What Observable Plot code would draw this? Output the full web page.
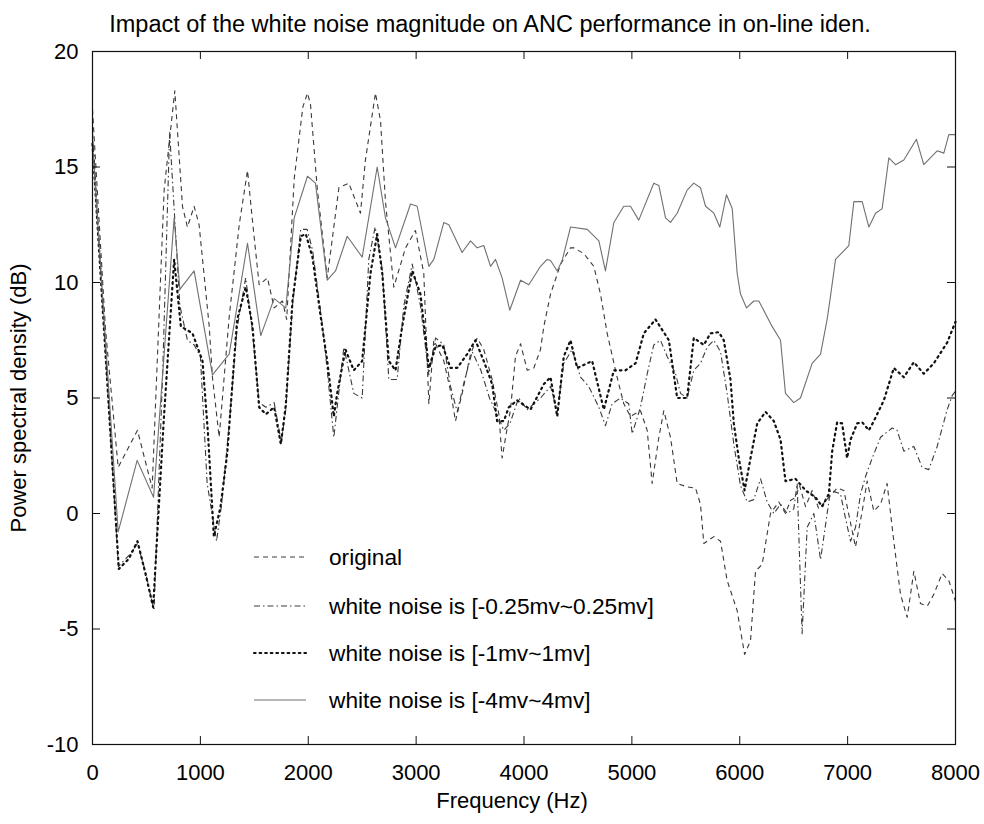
<!DOCTYPE html>
<html><head><meta charset="utf-8">
<script src="https://cdn.jsdelivr.net/npm/d3@7"></script>
<script src="https://cdn.jsdelivr.net/npm/@observablehq/plot@0.6"></script>
<style>
body{margin:0;background:#fff;}
#wrap{position:relative;width:984px;height:824px;background:#fff;}
#wrap svg{position:absolute;left:0;top:0;}
</style></head><body><div id="wrap"></div>
<script>
// ---- data (frequency Hz, PSD dB) ----
const seriesLabels = ["original", "white noise is [-0.25mv~0.25mv]", "white noise is [-1mv~1mv]", "white noise is [-4mv~4mv]"];

const original = [[0,17.5],[120,8],[238,2.0],[417,3.6],[553,1.1],[664,14],[763,18.3],[834,13.3],[880,12.4],[942,13.3],[988,12.5],[1082,8.1],[1112,5.9],[1174,3.3],[1267,8.5],[1360,12.5],[1437,14.85],[1480,12.8],[1545,9.9],[1622,10.2],[1684,8.9],[1761,9.2],[1800,8.4],[1870,14.5],[1950,17.6],[1993,18.2],[2021,17.7],[2083,14.1],[2176,10.2],[2284,14.1],[2376,14.3],[2484,13.0],[2530,15.3],[2623,18.2],[2670,17.0],[2716,13.5],[2793,9.8],[2902,11.5],[2994,12.25],[3071,10.4],[3118,4.75],[3164,7.5],[3257,6.6],[3319,5.3],[3365,4.0],[3427,5.2],[3504,6.9],[3566,7.6],[3627,7.1],[3705,5.8],[3767,4.3],[3797,2.4],[3844,3.7],[3875,4.5],[3921,6.8],[3968,7.35],[4030,6.2],[4091,6.3],[4153,7.1],[4184,8.1],[4246,9.5],[4340,10.8],[4431,11.5],[4462,11.5],[4555,11.25],[4647,10.7],[4709,9.5],[4771,7.8],[4863,5.9],[4925,4.75],[4987,4.2],[5080,4.45],[5142,3.6],[5188,1.3],[5250,3.3],[5296,4.45],[5358,3.3],[5420,1.3],[5512,1.15],[5590,1.1],[5636,0.4],[5667,-1.3],[5760,-1.0],[5822,-1.2],[5883,-2.9],[5976,-4.2],[6045,-6.1],[6100,-5.5],[6146,-2.5],[6208,-2.2],[6285,0.0],[6362,0.5],[6424,0.0],[6470,0.56],[6517,0.7],[6555,1.2],[6610,0.3],[6671,1.0],[6733,0.2],[6826,0.7],[6903,1.1],[6965,1.0],[7073,-1.45],[7135,0.1],[7181,1.4],[7243,0.1],[7305,0.4],[7366,1.3],[7428,-1.2],[7490,-3.5],[7552,-4.5],[7614,-2.5],[7675,-3.9],[7740,-4.0],[7799,-3.5],[7876,-2.6],[7938,-2.9],[8000,-3.8]];

const noise025 = [[0,16.5],[240,-2.3],[340,-1.8],[417,-1.3],[490,-2.5],[570,-4.2],[650,6],[715,16.5],[810,9],[880,7.5],[942,7.3],[1000,6.8],[1063,1.3],[1150,-1.2],[1200,0.5],[1270,4],[1340,8],[1420,10.2],[1480,8],[1545,4.8],[1607,4.6],[1684,4.8],[1750,3.1],[1792,4.5],[1854,9],[1930,12.3],[1990,12.3],[2040,11.4],[2130,8.2],[2176,6.2],[2237,3.3],[2330,7.2],[2422,5.2],[2500,5.0],[2561,11.0],[2620,12.4],[2686,10.6],[2747,5.8],[2824,5.8],[2886,9.0],[2964,10.8],[3040,9.0],[3118,6.0],[3180,7.6],[3257,7.3],[3319,5.5],[3381,4.4],[3450,5.8],[3520,7.0],[3600,6.2],[3680,5.0],[3760,4.2],[3813,3.6],[3870,3.9],[3950,5.0],[4030,4.5],[4153,5.0],[4246,5.5],[4308,4.4],[4369,6.5],[4446,7.1],[4524,5.9],[4600,5.5],[4694,4.6],[4755,3.8],[4817,4.75],[4894,5.0],[4971,4.75],[5003,3.45],[5080,4.6],[5140,6.0],[5203,7.3],[5265,7.5],[5327,6.8],[5405,6.05],[5451,5.2],[5512,5.0],[5574,6.2],[5636,6.5],[5698,7.2],[5760,7.5],[5822,7.0],[5883,5.2],[5945,3.0],[6007,1.2],[6070,0.5],[6130,0.6],[6193,1.5],[6254,0.5],[6316,0.0],[6378,0.4],[6440,0.0],[6501,0.2],[6532,1.3],[6578,-5.2],[6625,-0.6],[6687,0.0],[6749,-2.0],[6841,1.0],[6934,0.85],[6980,-0.2],[7027,-1.2],[7073,-0.6],[7120,0.85],[7166,1.6],[7228,2.4],[7305,3.3],[7413,3.7],[7459,3.6],[7521,2.7],[7614,2.9],[7690,2.0],[7752,1.9],[7830,2.9],[7923,4.5],[7969,5.1],[8000,5.3]];

const noise1 = [[0,16],[244,-2.4],[337,-1.96],[417,-1.2],[491,-2.6],[562,-4.05],[660,4],[757,11.0],[819,8.1],[927,7.8],[1020,6.6],[1070,3.5],[1125,-1.0],[1187,0.3],[1249,2.6],[1341,8.4],[1421,9.8],[1483,8.1],[1545,4.6],[1607,4.3],[1684,4.6],[1746,3.0],[1792,4.7],[1854,9.2],[1931,12.0],[1977,12.1],[2039,11.1],[2113,8.6],[2176,6.6],[2237,4.2],[2268,5.2],[2345,7.1],[2422,6.2],[2500,6.6],[2577,10.4],[2639,12.1],[2686,10.4],[2747,6.6],[2809,6.2],[2871,8.1],[2964,10.5],[3040,9.5],[3118,6.3],[3180,7.2],[3242,7.3],[3319,6.3],[3381,6.3],[3473,6.9],[3550,7.5],[3627,6.6],[3705,5.6],[3751,4.0],[3813,4.0],[3859,4.6],[3937,4.9],[4060,4.5],[4184,5.6],[4246,5.9],[4308,4.2],[4369,6.8],[4431,7.5],[4493,6.3],[4632,6.6],[4740,4.5],[4833,6.2],[4941,6.2],[5034,6.5],[5111,7.8],[5219,8.4],[5343,7.5],[5420,5.0],[5512,5.0],[5574,7.6],[5667,7.3],[5729,7.8],[5806,7.85],[5852,7.5],[5914,5.8],[5945,3.9],[5991,2.4],[6045,1.0],[6100,2.4],[6162,3.9],[6239,4.4],[6316,4.0],[6378,3.2],[6424,1.4],[6517,1.5],[6610,1.0],[6702,0.7],[6764,0.3],[6826,0.85],[6857,2.7],[6903,3.95],[6949,3.9],[6995,2.4],[7027,3.2],[7089,3.9],[7135,3.95],[7197,3.6],[7243,4.0],[7336,4.9],[7428,6.3],[7521,5.9],[7614,6.55],[7706,6.05],[7799,6.5],[7923,7.4],[8000,8.3]];

const noise4 = [[0,16],[238,-0.8],[414,2.3],[566,0.7],[757,12.8],[810,9.7],[942,10.5],[1112,6.0],[1267,6.9],[1437,11.7],[1560,7.7],[1684,9.3],[1792,8.9],[1870,12.8],[1993,14.6],[2067,14.3],[2176,10.1],[2253,10.5],[2361,12.0],[2500,11.1],[2639,15.0],[2716,12.8],[2809,11.5],[2948,13.4],[3010,13.3],[3118,10.7],[3164,11.0],[3257,12.6],[3303,12.5],[3426,11.3],[3504,11.8],[3566,11.5],[3627,11.6],[3690,10.7],[3736,11.0],[3797,10.2],[3868,8.8],[3968,10.1],[4045,9.9],[4153,10.7],[4215,11.0],[4246,10.95],[4308,10.5],[4354,10.95],[4431,12.4],[4586,12.3],[4694,11.8],[4755,10.5],[4833,12.6],[4925,13.3],[4987,13.3],[5064,12.7],[5203,14.3],[5250,14.2],[5312,12.8],[5358,12.6],[5420,13.0],[5512,14.0],[5574,14.3],[5636,14.1],[5683,13.3],[5760,13.0],[5815,12.4],[5877,13.8],[5930,13.2],[5976,10.4],[6007,9.5],[6063,8.9],[6130,9.2],[6177,9.2],[6300,8.1],[6378,7.5],[6424,5.2],[6501,4.8],[6563,5.0],[6671,6.5],[6749,6.9],[6810,8.4],[6841,9.4],[6888,11.0],[7011,11.6],[7058,13.5],[7135,13.5],[7197,12.4],[7259,13.0],[7320,13.2],[7382,15.4],[7444,15.1],[7521,15.3],[7638,16.2],[7706,15.1],[7830,15.7],[7892,15.6],[7938,16.4],[8000,16.4]];

const xTicks = [0,1000,2000,3000,4000,5000,6000,7000,8000];
const yTicks = [-10,-5,0,5,10,15,20];
const titleText = "Impact of the white noise magnitude on ANC performance in on-line iden.";
const xLabel = "Frequency (Hz)";
const yLabel = "Power spectral density (dB)";

// ---- styles ----
const styles = [
  {stroke:"#3a3a3a", width:1.1, dash:"5,4"},
  {stroke:"#3a3a3a", width:1.1, dash:"6,3,1.5,3"},
  {stroke:"#111", width:2.2, dash:"1.6,4", cap:"round"},
  {stroke:"#707070", width:1.1, dash:null}
];
const seriesData = [original, noise025, noise1, noise4];

const FONT = "Liberation Sans, Arial, sans-serif";
const W = 984, H = 824;
const M = {top:51, right:29, bottom:80, left:92};
const innerH = H - M.top - M.bottom;
const innerW = W - M.left - M.right;
const tickLen = 8;

const lineMarks = seriesData.map((s, i) => Plot.line(s, {
  x: d => d[0], y: d => d[1],
  stroke: styles[i].stroke, strokeWidth: styles[i].width,
  strokeDasharray: styles[i].dash || undefined,
  strokeLinecap: styles[i].cap || "butt"
}));

const chart = Plot.plot({
  width: W, height: H,
  marginTop: M.top, marginRight: M.right, marginBottom: M.bottom, marginLeft: M.left,
  style: {fontFamily: FONT, fontSize: "22px", background: "white", color: "black"},
  x: {domain: [0, 8000]},
  y: {domain: [-10, 20]},
  marks: [
    ...lineMarks,
    Plot.frame({stroke: "#111", strokeWidth: 1.2}),
    Plot.tickX(xTicks, {x: d => d, insetTop: innerH - tickLen, stroke: "#111"}),
    Plot.tickX(xTicks, {x: d => d, insetBottom: innerH - tickLen, stroke: "#111"}),
    Plot.tickY(yTicks, {y: d => d, insetRight: innerW - tickLen, stroke: "#111"}),
    Plot.tickY(yTicks, {y: d => d, insetLeft: innerW - tickLen, stroke: "#111"}),
    Plot.axisX(xTicks, {tickSize: 0, tickPadding: 20, label: null, fontSize: 22, tickFormat: d => String(d)}),
    Plot.axisY(yTicks, {tickSize: 0, tickPadding: 14, label: null, fontSize: 22, tickFormat: d => String(d)}),
    Plot.text([titleText], {frameAnchor: "top", dy: -36, dx: -34, fontSize: 23.5, textAnchor: "middle", text: d => d}),
    Plot.text([xLabel], {frameAnchor: "bottom", dy: 63, dx: -12, fontSize: 22, textAnchor: "middle", text: d => d}),
    Plot.text([yLabel], {frameAnchor: "left", dx: -74, rotate: -90, fontSize: 22, textAnchor: "middle", text: d => d})
  ]
});

const wrap = document.getElementById("wrap");
wrap.appendChild(chart);

// ---- legend (inside the axes, drawn as an overlay) ----
const legend = d3.create("svg").attr("width", W).attr("height", H)
  .style("font-family", FONT).style("pointer-events", "none");
const rowY = [557, 606, 653, 700];
seriesLabels.forEach((lab, i) => {
  const st = styles[i];
  legend.append("line").attr("x1", 254).attr("x2", 306).attr("y1", rowY[i]).attr("y2", rowY[i])
    .attr("stroke", st.stroke).attr("stroke-width", st.width)
    .attr("stroke-dasharray", st.dash).attr("stroke-linecap", st.cap || "butt");
  legend.append("text").attr("x", 329).attr("y", rowY[i]).attr("dy", "0.35em")
    .attr("font-size", 22.7).attr("fill", "black").text(lab);
});
wrap.appendChild(legend.node());
</script>
</body></html>
